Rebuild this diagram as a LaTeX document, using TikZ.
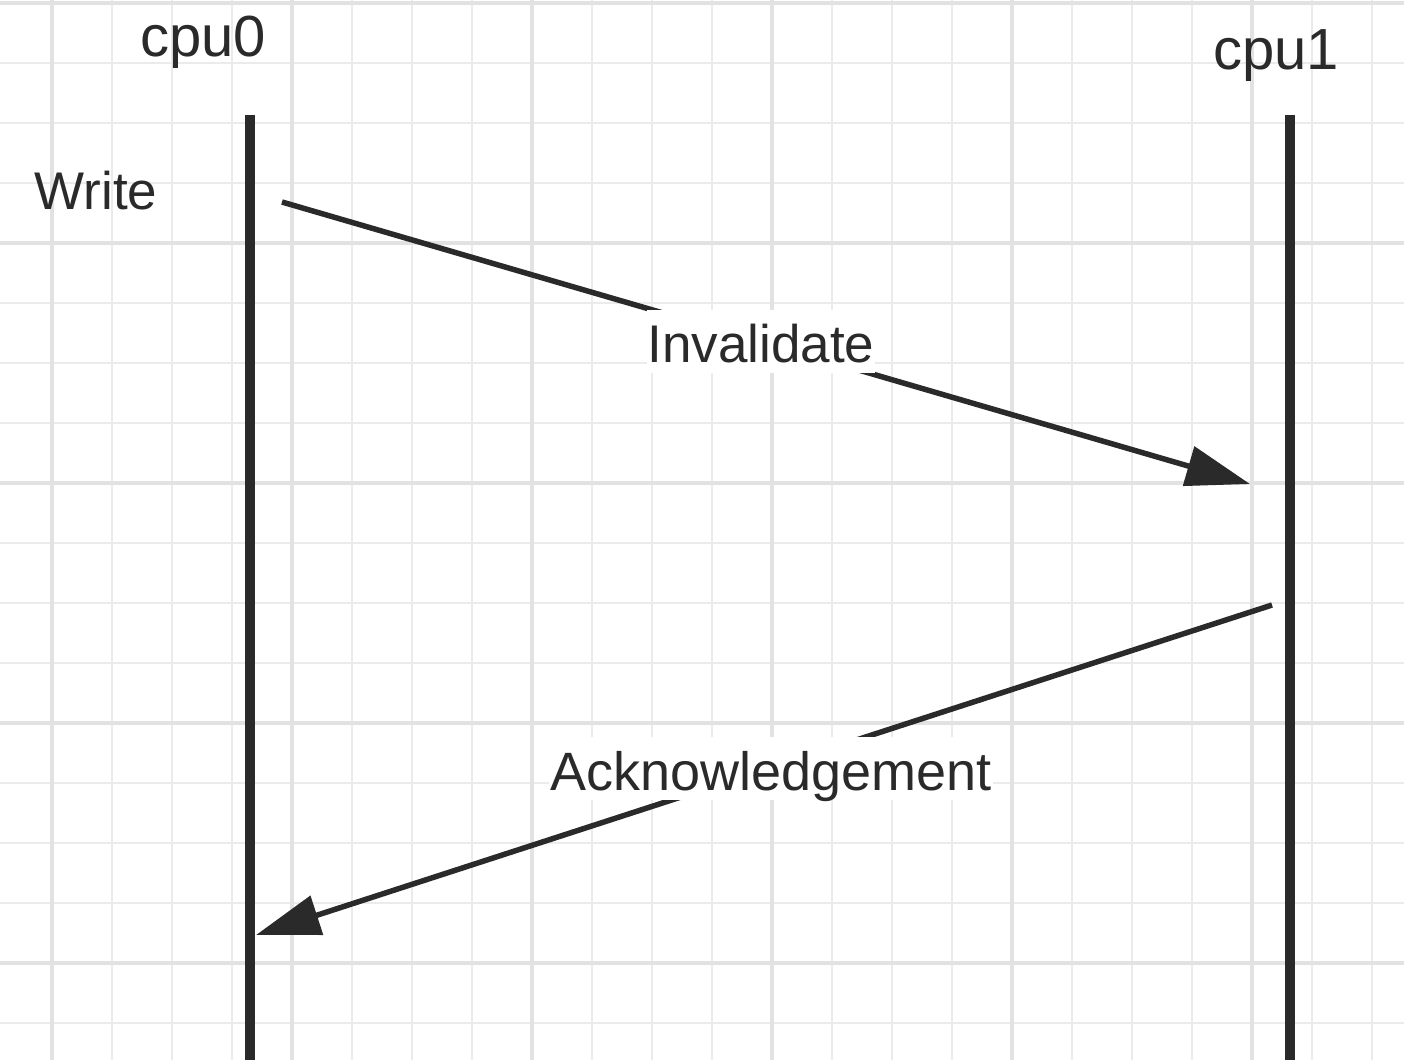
\documentclass[tikz,border=0pt]{standalone}
\usepackage{fontspec}
\setmainfont{Liberation Sans}
\usetikzlibrary{arrows.meta}
\definecolor{ink}{HTML}{2A2A2A}
\definecolor{gridfine}{HTML}{EBEBEB}
\definecolor{gridbold}{HTML}{E2E2E2}
\tikzset{
  lbl/.style={inner sep=0pt, text=ink, font=\fontsize{53}{60}\selectfont},
  headlbl/.style={lbl, font=\fontsize{58}{66}\selectfont},
  lifeline/.style={draw=ink, line width=9.5pt},
  msg/.style={draw=ink, line width=5.5pt, -{Triangle[length=64pt, width=40pt]}},
  msglbl/.style={lbl, fill=white, inner xsep=1pt, inner ysep=0pt, text height=53pt, text depth=10pt},
}
\begin{document}
\begin{tikzpicture}[x=1pt, y=-1pt]
\useasboundingbox (0,0) rectangle (1404,1060);
\fill[white] (0,0) rectangle (1404,1060);
% grid
\foreach \i in {0,...,22} {
  \pgfmathsetmacro{\xx}{52+60*\i}
  \draw[gridfine, line width=2.6pt] (\xx,0) -- (\xx,1060);
}
\foreach \i in {0,...,17} {
  \pgfmathsetmacro{\yy}{3+60*\i}
  \draw[gridfine, line width=2.6pt] (0,\yy) -- (1404,\yy);
}
\foreach \xx in {52,292,532,772,1012,1252}
  \draw[gridbold, line width=3.2pt] (\xx,0) -- (\xx,1060);
\foreach \yy in {3,243,483,723,963}
  \draw[gridbold, line width=3.2pt] (0,\yy) -- (1404,\yy);

% labels
\node[headlbl] (cpu0) at (203,42) {cpu0};
\node[headlbl] (cpu1) at (1276,56) {cpu1};
\node[lbl] (write) at (96,191) {Write};

% lifelines
\coordinate (l0top) at (250,115);
\coordinate (l0bot) at (250,1060);
\coordinate (l1top) at (1290,115);
\coordinate (l1bot) at (1290,1060);
\draw[lifeline] (l0top) -- (l0bot);
\draw[lifeline] (l1top) -- (l1bot);

% messages
\coordinate (invS) at (282,202);
\coordinate (invE) at (1250,484);
\coordinate (ackS) at (1272,605);
\coordinate (ackE) at (256,935);
\draw[msg] (invS) -- node[msglbl, xshift=-5pt, yshift=2pt] (inv) {Invalidate} (invE);
\draw[msg] (ackS) -- node[msglbl, xshift=7pt, yshift=1.5pt, font=\fontsize{54}{60}\selectfont] (ack) {Acknowledgement} (ackE);
\end{tikzpicture}
\end{document}
